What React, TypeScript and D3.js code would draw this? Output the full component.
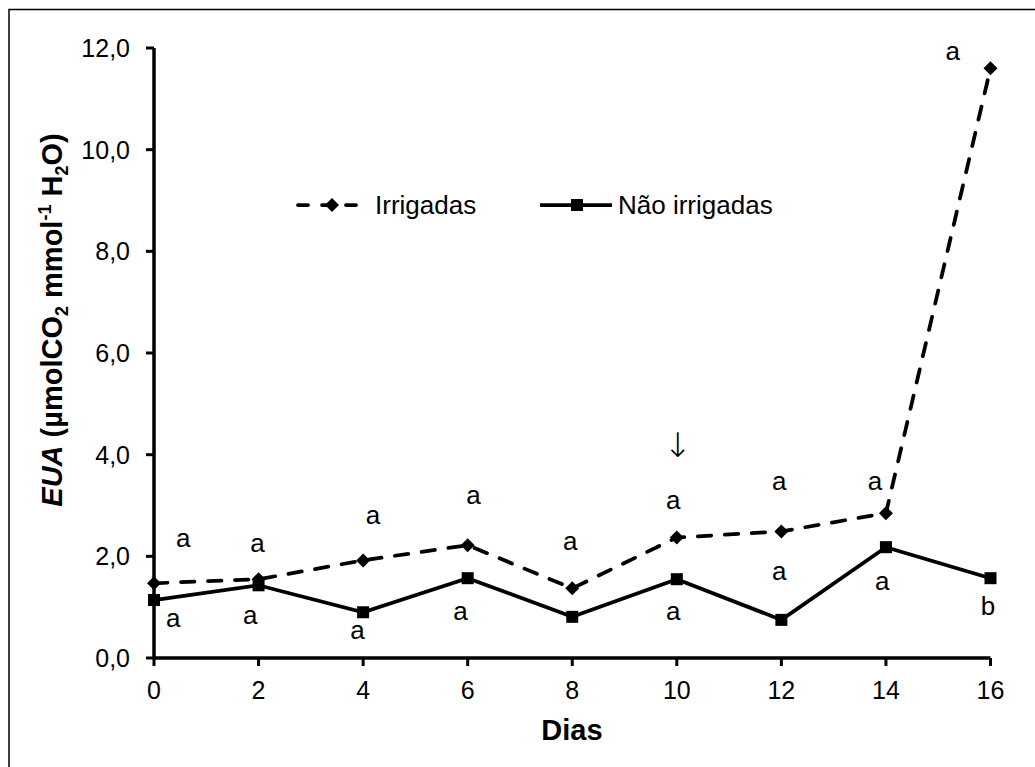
import React from "react";
import * as d3 from "d3";

// EUA over days, two treatments
const days = [0, 2, 4, 6, 8, 10, 12, 14, 16];
const irrigadas = [1.47, 1.55, 1.92, 2.22, 1.37, 2.37, 2.49, 2.85, 11.6];
const naoIrrigadas = [1.14, 1.43, 0.9, 1.57, 0.81, 1.55, 0.75, 2.18, 1.57];
const yTicks = [0, 2, 4, 6, 8, 10, 12];

// significance letters (placed in data units)
const topLetters = ["a", "a", "a", "a", "a", "a", "a", "a", "a"];
const topLetterPos = [
  [0.56, 2.32], [1.98, 2.22], [4.19, 2.77], [6.11, 3.16], [7.96, 2.26],
  [9.93, 3.06], [11.96, 3.44], [13.79, 3.44], [15.28, 11.9],
];
const bottomLetters = ["a", "a", "a", "a", "a", "a", "a", "b"];
const bottomLetterPos = [
  [0.37, 0.75], [1.84, 0.81], [3.89, 0.51], [5.86, 0.88],
  [9.93, 0.88], [11.96, 1.67], [13.93, 1.47], [15.95, 0.98],
];
const arrowAt = [10, 4.2];

const font = "'Liberation Sans', Arial, sans-serif";

export default function App() {
  const x = d3.scaleLinear().domain([0, 16]).range([154, 990.5]);
  const y = d3.scaleLinear().domain([0, 12]).range([658, 48]);

  const line = d3
    .line<number>()
    .x((_, i) => x(days[i]))
    .y((d) => y(d));

  const diamond = "M0,-7L7,0L0,7L-7,0Z";
  const lw = 3.75;

  return (
    <svg
      width={1035}
      height={767}
      style={{ position: "absolute", left: 0, top: 0, background: "#fff" }}
      fontFamily={font}
    >
      <rect x={9} y={9.5} width={1100} height={800} fill="#fff" stroke="#000" strokeWidth={1.5} />

      {/* axes */}
      <line x1={x(0)} x2={x(0)} y1={y(12)} y2={y(0)} stroke="#000" strokeWidth={3.5} />
      <line x1={x(0)} x2={x(16)} y1={y(0)} y2={y(0)} stroke="#000" strokeWidth={3.5} />
      {yTicks.map((t) => (
        <g key={"y" + t}>
          <line x1={x(0) - 8} x2={x(0)} y1={y(t)} y2={y(t)} stroke="#000" strokeWidth={3} />
          <text x={130} y={y(t)} dy="0.36em" textAnchor="end" fontSize={25}>
            {t.toFixed(1).replace(".", ",")}
          </text>
        </g>
      ))}
      {days.map((t) => (
        <g key={"x" + t}>
          <line x1={x(t)} x2={x(t)} y1={y(0)} y2={y(0) + 8} stroke="#000" strokeWidth={3} />
          <text x={x(t)} y={699} textAnchor="middle" fontSize={25}>
            {t}
          </text>
        </g>
      ))}

      <text x={572} y={740} textAnchor="middle" fontSize={29} fontWeight="bold">
        Dias
      </text>
      <g transform="translate(52,320) rotate(-90)">
        <text x={0} y={0} dy="0.36em" textAnchor="middle" fontSize={29} fontWeight="bold">
          <tspan fontStyle="italic">EUA</tspan>
          <tspan> (µmolCO</tspan>
          <tspan fontSize={18} dy={6}>2</tspan>
          <tspan dy={-6}> mmol</tspan>
          <tspan fontSize={18} dy={-11}>-1</tspan>
          <tspan dy={11}> H</tspan>
          <tspan fontSize={18} dy={6}>2</tspan>
          <tspan dy={-6}>O)</tspan>
        </text>
      </g>

      {/* series */}
      <path
        d={line(irrigadas) || ""}
        fill="none"
        stroke="#000"
        strokeWidth={lw}
        strokeDasharray="13.5,13.5"
        strokeLinecap="round"
      />
      <path d={line(naoIrrigadas) || ""} fill="none" stroke="#000" strokeWidth={lw} />
      {irrigadas.map((v, i) => (
        <path key={"d" + i} d={diamond} transform={`translate(${x(days[i])},${y(v)})`} fill="#000" />
      ))}
      {naoIrrigadas.map((v, i) => (
        <rect key={"s" + i} x={x(days[i]) - 6} y={y(v) - 6} width={12} height={12} fill="#000" />
      ))}

      {/* letters */}
      {topLetters.map((l, i) => (
        <text key={"t" + i} x={x(topLetterPos[i][0])} y={y(topLetterPos[i][1]) + 7} textAnchor="middle" fontSize={26}>
          {l}
        </text>
      ))}
      {bottomLetters.map((l, i) => (
        <text key={"b" + i} x={x(bottomLetterPos[i][0])} y={y(bottomLetterPos[i][1]) + 7} textAnchor="middle" fontSize={26}>
          {l}
        </text>
      ))}
      <text x={x(arrowAt[0]) + 1} y={y(arrowAt[1]) + 12} textAnchor="middle" fontSize={34} fontFamily="'DejaVu Sans', sans-serif" fontWeight={200}>
        ↓
      </text>

      {/* legend */}
      <line x1={298} x2={368} y1={205} y2={205} stroke="#000" strokeWidth={lw} strokeDasharray="10,14" strokeLinecap="round" />
      <path d={diamond} transform="translate(332,205)" fill="#000" />
      <text x={375} y={205} dy="0.36em" fontSize={26}>Irrigadas</text>
      <line x1={540} x2={612} y1={205} y2={205} stroke="#000" strokeWidth={lw} />
      <rect x={571} y={199} width={12} height={12} fill="#000" />
      <text x={618} y={205} dy="0.36em" fontSize={26}>Não irrigadas</text>
    </svg>
  );
}
